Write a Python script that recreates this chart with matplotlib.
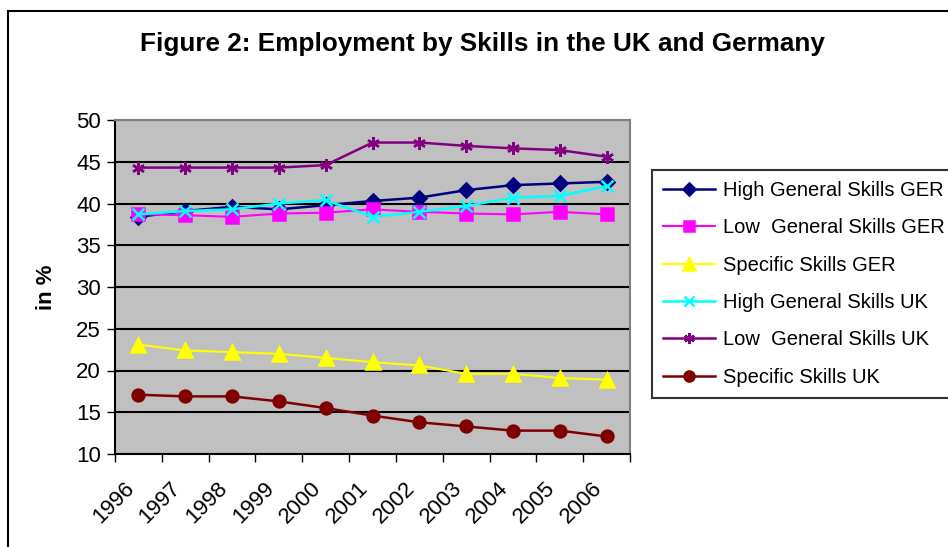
import matplotlib
matplotlib.use("Agg")
import matplotlib.pyplot as plt
from matplotlib.transforms import ScaledTranslation
from matplotlib.patches import Rectangle
import numpy as np

plt.rcParams["font.family"] = ["Liberation Sans", "DejaVu Sans"]

years = ["1996", "1997", "1998", "1999", "2000", "2001", "2002", "2003", "2004", "2005", "2006"]

high_ger = [38.4, 39.1, 39.6, 39.3, 39.8, 40.3, 40.7, 41.6, 42.2, 42.4, 42.6]
low_ger = [38.7, 38.6, 38.4, 38.8, 38.9, 39.3, 39.0, 38.8, 38.7, 39.0, 38.7]
spec_ger = [23.1, 22.4, 22.2, 22.0, 21.5, 21.0, 20.6, 19.6, 19.6, 19.1, 18.9]
high_uk = [38.7, 39.1, 39.3, 40.0, 40.4, 38.4, 39.0, 39.7, 40.7, 40.9, 42.1]
low_uk = [44.3, 44.3, 44.3, 44.3, 44.6, 47.3, 47.3, 46.9, 46.6, 46.4, 45.6]
spec_uk = [17.1, 16.9, 16.9, 16.3, 15.5, 14.6, 13.8, 13.3, 12.8, 12.8, 12.1]

W, H = 948, 547
fig = plt.figure(figsize=(W / 100, H / 100), dpi=100)
fig.patch.set_facecolor("white")

# outer chart border (cropped at right and bottom)
fig.patches.append(Rectangle((8 / W, -0.05), 1.1, 1 - 11 / H + 0.05,
                             transform=fig.transFigure, fill=False,
                             edgecolor="black", linewidth=1.5))

ax = fig.add_axes([115 / W, 1 - 454 / H, (630 - 115) / W, (454 - 120) / H])
ax.set_facecolor("#C0C0C0")

x = np.arange(len(years))
series = [
    (high_ger, "High General Skills GER", "#000080", "D", 7.5, 1.8),
    (low_ger, "Low  General Skills GER", "#FF00FF", "s", 8, 1.5),
    (spec_ger, "Specific Skills GER", "#FFFF00", "^", 9.5, 1.5),
    (high_uk, "High General Skills UK", "#00FFFF", "x", 8, 1.8),
    (low_uk, "Low  General Skills UK", "#800080", (6, 2, 0), 9, 1.8),
    (spec_uk, "Specific Skills UK", "#800000", "o", 8.5, 1.8),
]
lines = []
for vals, lab, col, mk, ms, lw in series:
    ln, = ax.plot(x, vals, color=col, marker=mk, markersize=ms, linewidth=lw,
                  markeredgecolor=col, markerfacecolor=col, markeredgewidth=1.8,
                  label=lab, zorder=3)
    lines.append(ln)

ax.set_xlim(-0.5, len(years) - 0.5)
ax.set_ylim(10, 50)
ax.set_yticks(np.arange(10, 51, 5))
ax.yaxis.grid(True, color="black", linewidth=1.5)
ax.set_axisbelow(True)

ax.set_xticks(x)
ax.set_xticks(np.arange(-0.5, len(years)), minor=True)
ax.set_xticklabels(years, rotation=45, ha="right", va="top", rotation_mode="anchor",
                   fontsize=16)
ax.tick_params(axis="x", which="major", length=0, pad=0)
ax.tick_params(axis="x", which="minor", length=6, width=1, direction="out")
ax.tick_params(axis="y", length=6, width=1, direction="out", labelsize=16, pad=4)
for lbl in ax.get_xticklabels():
    lbl.set_transform(lbl.get_transform() + ScaledTranslation(-0.15, -0.24, fig.dpi_scale_trans))

for s in ["left", "bottom"]:
    ax.spines[s].set_color("black")
    ax.spines[s].set_linewidth(1.5)
for s in ["top", "right"]:
    ax.spines[s].set_color("#808080")
    ax.spines[s].set_linewidth(1.5)

ax.set_ylabel("in %", fontsize=16, fontweight="bold", labelpad=14)

fig.text(482 / W, 1 - 44 / H, "Figure 2: Employment by Skills in the UK and Germany",
         ha="center", va="center", fontsize=18.8, fontweight="bold")

leg = fig.legend(handles=lines, loc="upper left", bbox_to_anchor=(652 / W, 1 - 170 / H),
                 fontsize=14.5, frameon=True, fancybox=False, handlelength=2.6,
                 handletextpad=0.4, labelspacing=0.91,
                 borderpad=0.55, borderaxespad=0, markerscale=0.85)
leg.get_frame().set_edgecolor("black")
leg.get_frame().set_linewidth(1.5)

fig.savefig("out.png", dpi=100)
